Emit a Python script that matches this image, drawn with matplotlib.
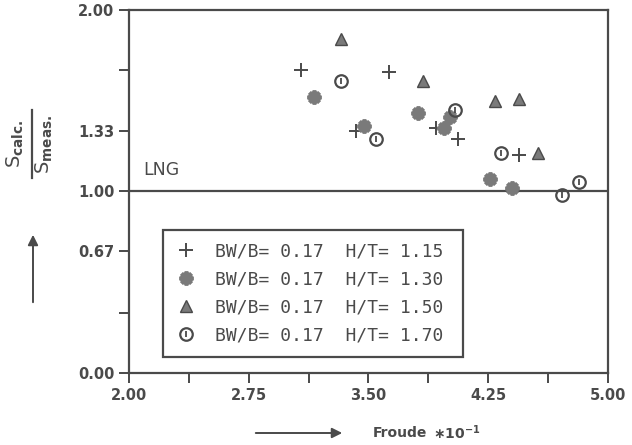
"""
Scalc/Smeas against Froude number for the LNG hull, four water-depth ratios.
"""

import matplotlib

matplotlib.use("Agg")
import matplotlib.pyplot as plt
from matplotlib.legend_handler import HandlerTuple
from matplotlib.lines import Line2D
from matplotlib.patches import FancyArrowPatch

INK = "#4a4a4a"
FILL = "#7a7a7a"

# values (Froude x 10^-1, S_calc/S_meas)
FN_115 = [3.08, 3.63, 3.42, 3.92, 4.06, 4.44]
S_115 = [1.67, 1.66, 1.33, 1.35, 1.29, 1.20]

FN_130 = [3.16, 3.47, 3.81, 3.97, 4.01, 4.26, 4.40]
S_130 = [1.52, 1.36, 1.43, 1.35, 1.41, 1.07, 1.02]

FN_150 = [3.33, 3.84, 4.29, 4.44, 4.56]
S_150 = [1.84, 1.61, 1.50, 1.51, 1.21]

FN_170 = [3.33, 3.55, 4.04, 4.33, 4.71, 4.82]
S_170 = [1.61, 1.29, 1.45, 1.21, 0.98, 1.05]

BWB = ["0.17", "0.17", "0.17", "0.17"]
HT = ["1.15", "1.30", "1.50", "1.70"]

X_MAJOR = [2.00, 2.75, 3.50, 4.25, 5.00]
X_MINOR = [2.375, 3.125, 3.875, 4.625]
Y_MAJOR = [0.00, 0.67, 1.00, 1.33, 2.00]
Y_MINOR = [0.33, 1.67]

plt.rcParams.update({"font.family": "DejaVu Sans", "font.weight": "bold",
                     "mathtext.fontset": "dejavusans"})

W, H = 632, 445
fig = plt.figure(figsize=(W / 100, H / 100), dpi=100)
ax = fig.add_axes([0.204, 0.162, 0.758, 0.816])


def px(x, y):
    """pixel position (from top-left) -> figure fraction"""
    return x / W, 1 - y / H


plus = dict(marker="+", ms=10, mew=1.4, color=INK, ls="none")
star = dict(marker=(8, 2, 0), ms=10, mew=2.8, color=FILL, ls="none")
tri = dict(marker="^", ms=8, mfc=FILL, mec=INK, mew=1.0, ls="none")
ring = dict(marker="o", ms=9, mfc="none", mec=INK, mew=1.6, ls="none")
tick = dict(marker="|", ms=4, mew=1.3, color=INK, ls="none")

ax.plot(FN_115, S_115, **plus)
ax.plot(FN_130, S_130, **star)
ax.plot(FN_150, S_150, **tri)
ax.plot(FN_170, S_170, **ring)
ax.plot(FN_170, S_170, **tick)

ax.axhline(1.0, color=INK, lw=1.6, zorder=1)
ax.text(2.09, 1.09, "LNG", fontsize=12.5, fontweight="normal", color=INK)

ax.set_xlim(2.0, 5.0)
ax.set_ylim(0.0, 2.0)
ax.set_xticks(X_MAJOR, [f"{v:.2f}" for v in X_MAJOR])
ax.set_xticks(X_MINOR, minor=True)
ax.set_yticks(Y_MAJOR, [f"{v:.2f}" for v in Y_MAJOR])
ax.set_yticks(Y_MINOR, minor=True)
ax.tick_params(which="both", direction="out", color=INK, width=1.4,
               labelcolor=INK, labelsize=10.5, length=7)
ax.tick_params(axis="x", pad=4)
for sp in ax.spines.values():
    sp.set_color(INK)
    sp.set_linewidth(1.6)

handles = [
    Line2D([], [], **plus),
    Line2D([], [], **star),
    Line2D([], [], **tri),
    (Line2D([], [], **ring), Line2D([], [], **tick)),
]
labels = [f"BW/B= {b}  H/T= {h}" for b, h in zip(BWB, HT)]
leg = ax.legend(
    handles, labels,
    handler_map={tuple: HandlerTuple(ndivide=1, pad=0)},
    loc="lower left", bbox_to_anchor=(0.071, 0.044, 0.626, 0.366),
    mode="expand", fancybox=False, framealpha=1, edgecolor=INK,
    prop={"family": "DejaVu Sans Mono", "size": 13, "weight": "normal"},
    labelcolor=INK, handlelength=1.2, handletextpad=1.0,
    labelspacing=0.55, borderpad=0.7, borderaxespad=0,
)
leg.get_frame().set_linewidth(1.6)

# y label: S_calc. over S_meas., written sideways, plus arrow
fig.text(*px(15, 144), r"S$_{\mathsf{calc.}}$", rotation=90, ha="center",
         va="center", fontsize=14, fontweight="normal", color=INK)
fig.text(*px(44, 144), r"S$_{\mathsf{meas.}}$", rotation=90, ha="center",
         va="center", fontsize=14, fontweight="normal", color=INK)
fig.add_artist(Line2D([32 / W, 32 / W], [1 - 110 / H, 1 - 178 / H],
                      color=INK, lw=1.6))
fig.patches.append(FancyArrowPatch(
    px(33, 305), px(33, 232), transform=fig.transFigure,
    arrowstyle="-|>,head_length=6,head_width=3", color=INK, lw=1.4))

# x label with arrow
fig.text(*px(373, 433), "Froude", ha="left", va="center", fontsize=10,
         color=INK)
fig.text(*px(433, 433), r"$\ast$10$^{\mathsf{-1}}$", ha="left", va="center",
         fontsize=10, color=INK)
fig.patches.append(FancyArrowPatch(
    px(253, 433), px(345, 433), transform=fig.transFigure,
    arrowstyle="-|>,head_length=6,head_width=3", color=INK, lw=1.4))

fig.savefig("out.png", dpi=100)
